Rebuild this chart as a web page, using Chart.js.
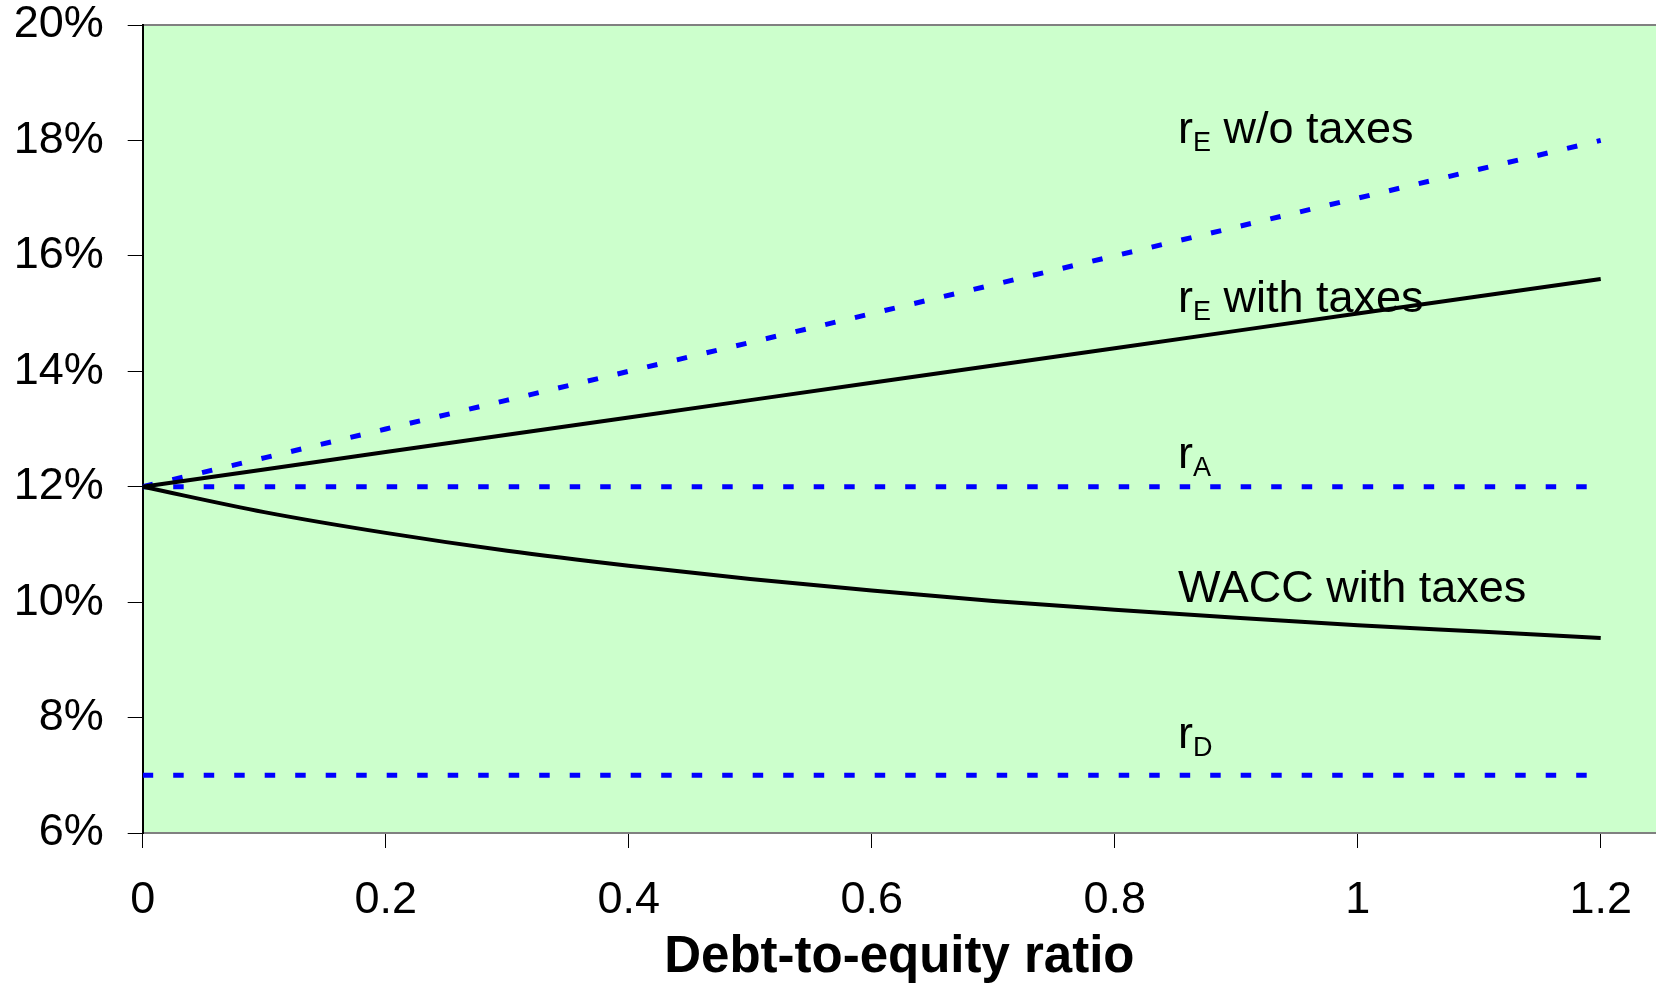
<!DOCTYPE html>
<html>
<head>
<meta charset="utf-8">
<script src="https://cdn.jsdelivr.net/npm/chart.js@4.4.1/dist/chart.umd.min.js"></script>
<style>
  html, body { margin: 0; padding: 0; background: #fff; }
  #wrap { width: 1656px; height: 983px; position: relative; }
</style>
</head>
<body>
<div id="wrap"><canvas id="chart"></canvas></div>
<script>
// Datos
const ratios = [0, 0.1, 0.2, 0.3, 0.4, 0.5, 0.6, 0.7, 0.8, 0.9, 1.0, 1.1, 1.2];
const rENoTax = [12, 12.5, 13, 13.5, 14, 14.5, 15, 15.5, 16, 16.5, 17, 17.5, 18];
const rEWithTax = [12, 12.3, 12.6, 12.9, 13.2, 13.5, 13.8, 14.1, 14.4, 14.7, 15, 15.3, 15.6];
const waccWithTax = [12, 11.56, 11.2, 10.89, 10.63, 10.4, 10.2, 10.02, 9.87, 9.73, 9.6, 9.49, 9.38];
const rA = [12, 12, 12, 12, 12, 12, 12, 12, 12, 12, 12, 12, 12];
const rD = [7, 7, 7, 7, 7, 7, 7, 7, 7, 7, 7, 7, 7];

const xTicks = [0, 0.2, 0.4, 0.6, 0.8, 1, 1.2];
const yTicks = [6, 8, 10, 12, 14, 16, 18, 20];

// Etiquetas sobre las líneas (posición en unidades de datos)
const labels = [
  { x: 0.852, y: 17.95, main: "r", sub: "E", rest: " w/o taxes" },
  { x: 0.852, y: 15.02, main: "r", sub: "E", rest: " with taxes" },
  { x: 0.852, y: 12.33, main: "r", sub: "A", rest: "" },
  { x: 0.852, y: 10.0, main: "WACC with taxes", sub: "", rest: "" },
  { x: 0.852, y: 7.48, main: "r", sub: "D", rest: "" }
];

const FONT = "'Liberation Sans', Arial, sans-serif";
const blue = "#0000FF";
const dash = [10.5, 20];

const toPoints = (ys) => ratios.map((x, i) => ({ x, y: ys[i] }));

// Fondo verde del área de trazado + borde superior
const plotBg = {
  id: "plotBg",
  beforeDraw(chart) {
    const { ctx, chartArea: a } = chart;
    ctx.save();
    ctx.fillStyle = "#CCFFCC";
    ctx.fillRect(a.left, a.top, a.right - a.left, a.bottom - a.top);
    ctx.strokeStyle = "#808080";
    ctx.lineWidth = 2;
    ctx.beginPath();
    ctx.moveTo(a.left, a.top);
    ctx.lineTo(a.right, a.top);
    ctx.stroke();
    ctx.restore();
  }
};

// Texto con subíndices
const lineLabels = {
  id: "lineLabels",
  afterDatasetsDraw(chart) {
    const { ctx, scales } = chart;
    ctx.save();
    ctx.fillStyle = "#000";
    ctx.textBaseline = "alphabetic";
    ctx.textAlign = "left";
    labels.forEach((l) => {
      let px = scales.x.getPixelForValue(l.x);
      const py = scales.y.getPixelForValue(l.y);
      ctx.font = "45px " + FONT;
      ctx.fillText(l.main, px, py);
      px += ctx.measureText(l.main).width;
      if (l.sub) {
        ctx.font = "27px " + FONT;
        ctx.fillText(l.sub, px, py + 8);
        px += ctx.measureText(l.sub).width;
      }
      if (l.rest) {
        ctx.font = "45px " + FONT;
        ctx.fillText(l.rest, px, py);
      }
    });
    ctx.restore();
  }
};

// sin relleno automático alrededor de las escalas
const noPad = (s) => { s.paddingTop = 0; s.paddingBottom = 0; s.paddingLeft = 0; s.paddingRight = 0; };

new Chart(document.getElementById("chart"), {
  type: "line",
  data: {
    datasets: [
      { label: "WACC with taxes", data: toPoints(waccWithTax), borderColor: "#000", borderWidth: 4, cubicInterpolationMode: "monotone" },
      { label: "rE with taxes", data: toPoints(rEWithTax), borderColor: "#000", borderWidth: 4 },
      { label: "rE w/o taxes", data: toPoints(rENoTax), borderColor: blue, borderWidth: 5, borderDash: dash },
      { label: "rA", data: toPoints(rA), borderColor: blue, borderWidth: 5, borderDash: dash },
      { label: "rD", data: toPoints(rD), borderColor: blue, borderWidth: 5, borderDash: dash }
    ]
  },
  options: {
    responsive: true,
    maintainAspectRatio: false,
    animation: false,
    elements: { point: { radius: 0 }, line: { borderCapStyle: "butt", fill: false } },
    layout: { autoPadding: false, padding: { top: 25, right: 0, bottom: 0, left: 0 } },
    plugins: { legend: { display: false }, tooltip: { enabled: false } },
    scales: {
      x: {
        type: "linear",
        min: 0,
        max: 1.2455,
        afterFit: (s) => { s.height = 150; noPad(s); },
        afterBuildTicks: (s) => { s.ticks = xTicks.map((v) => ({ value: v })); },
        ticks: { color: "#000", padding: 26, maxRotation: 0, autoSkip: false, font: { family: FONT, size: 45 },
          callback: (v) => String(v) },
        grid: { drawOnChartArea: false, drawTicks: true, tickLength: 15, color: "#000", lineWidth: 1 },
        border: { display: true, color: "#808080", width: 2 },
        title: { display: true, text: "Debt-to-equity ratio", color: "#000", padding: { top: 0, bottom: 0 },
          font: { family: FONT, size: 51, weight: "bold", lineHeight: 1.0 } }
      },
      y: {
        min: 6,
        max: 20,
        afterFit: (s) => { s.width = 142.7; noPad(s); },
        afterBuildTicks: (s) => { s.ticks = yTicks.map((v) => ({ value: v })); },
        ticks: { color: "#000", padding: 24, autoSkip: false, font: { family: FONT, size: 45 },
          callback: (v) => v + "%" },
        grid: { drawOnChartArea: false, drawTicks: true, tickLength: 15, color: "#000", lineWidth: 1 },
        border: { display: true, color: "#000", width: 2 }
      }
    }
  },
  plugins: [plotBg, lineLabels]
});
</script>
</body>
</html>
